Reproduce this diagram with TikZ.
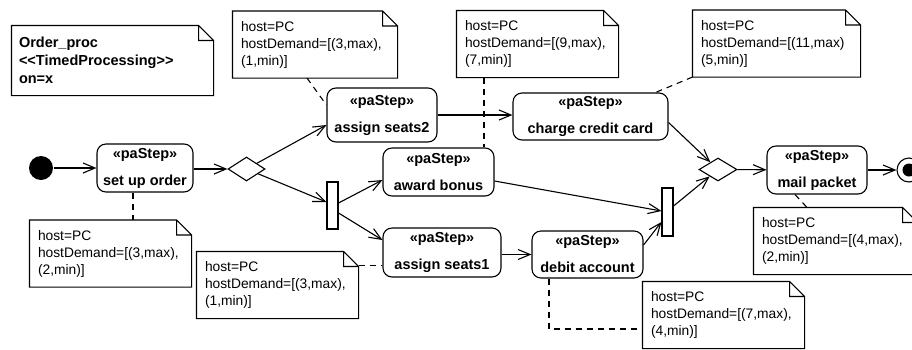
\documentclass[tikz,border=0pt]{standalone}
\usepackage{fontspec}
\setmainfont{Liberation Sans}
\usetikzlibrary{arrows.meta,positioning,shapes.geometric}

\begin{document}
\begin{tikzpicture}[x=1pt, y=-1pt, line width=1.1pt,
  pastep/.style={draw, rounded corners=9pt, align=center, inner sep=0pt,
                 font=\bfseries\fontsize{14.5}{27}\selectfont},
  note/.style={text width=145pt, inner xsep=8pt, minimum height=66pt, align=left,
               font=\fontsize{13.8}{17}\selectfont},
  bar/.style={draw, minimum width=11pt, minimum height=47pt, inner sep=0pt},
  choice/.style={draw, diamond, minimum width=37pt, minimum height=24pt, inner sep=0pt},
  flow/.style={-{Straight Barb[length=12pt,width=10pt]}},
  anchorline/.style={dash pattern=on 6pt off 5pt}]

  \useasboundingbox (0,0) rectangle (912,349);

  % activity nodes
  \node[circle, fill, minimum size=24pt, inner sep=0pt] (init) at (41,168) {};
  \node[pastep, minimum width=96pt, minimum height=48pt] (setup) at (145,168) {«paStep»\\set up order};
  \node[choice] (d1) at (246.5,169) {};
  \node[pastep, minimum width=110pt, minimum height=54pt] (seats2) at (382,115) {«paStep»\\assign seats2};
  \node[bar] (fork1) at (332.5,205.5) {};
  \node[pastep, minimum width=111pt, minimum height=48pt] (bonus) at (438.5,172) {«paStep»\\award bonus};
  \node[pastep, minimum width=118pt, minimum height=49pt] (seats1) at (442,252.5) {«paStep»\\assign seats1};
  \node[pastep, minimum width=155pt, minimum height=47pt] (credit) at (590.5,116.5) {«paStep»\\charge credit card};
  \node[pastep, minimum width=111pt, minimum height=47pt] (debit) at (587.5,254.5) {«paStep»\\debit account};
  \node[bar, minimum height=48pt] (fork2) at (667.5,212) {};
  \node[choice, minimum width=38pt, minimum height=23pt] (d2) at (718,169.5) {};
  \node[pastep, minimum width=100pt, minimum height=48pt] (mail) at (817,170) {«paStep»\\mail packet};
  \node[circle, draw, minimum size=24pt, inner sep=0pt] (final) at (909,170) {};
  \fill (final) circle (6.5pt);

  % notes
  \node[note, text width=187pt, inner xsep=7pt, minimum height=69pt,
        font=\bfseries\fontsize{14.5}{18}\selectfont] (ord) at (112.5,60.5)
       {Order\_proc\\<\kern0pt<TimedProcessing>\kern0pt>\\on=x};
  \node[note, text width=148pt] (n1) at (315,44.5) {host=PC\\hostDemand=[(3,max),\\(1,min)]};
  \node[note] (n2) at (537.5,44) {host=PC\\hostDemand=[(9,max),\\(7,min)]};
  \node[note, text width=151pt] (n3) at (776.5,43.5) {host=PC\\hostDemand=[(11,max)\\(5,min)]};
  \node[note] (n4) at (110.5,253.5) {host=PC\\hostDemand=[(3,max),\\(2,min)]};
  \node[note] (n5) at (277.5,285) {host=PC\\hostDemand=[(3,max),\\(1,min)]};
  \node[note] (n6) at (723.5,315) {host=PC\\hostDemand=[(7,max),\\(4,min)]};
  \node[note, text width=147pt] (n7) at (835.5,241) {host=PC\\hostDemand=[(4,max),\\(2,min)]};
  \foreach \n in {ord,n1,n2,n3,n4,n5,n6,n7}
    \draw (\n.south west) -- (\n.north west) -- ([xshift=-15pt]\n.north east)
      -- ([yshift=-15pt]\n.north east) -- (\n.south east) -- cycle
      ([xshift=-15pt]\n.north east) |- ([yshift=-15pt]\n.north east);

  % control flow
  \draw[flow] (init) -- (setup);
  \draw[flow] (setup.east |- d1) -- (d1);
  \draw[flow] (d1) -- ([yshift=-10pt]seats2.west);
  \draw[flow] (d1) -- ([yshift=3.5pt]fork1.west);
  \draw[flow] ([yshift=2.5pt]fork1.east) -- ([yshift=-8pt]bonus.west);
  \draw[flow] ([yshift=-7.5pt]fork1.east) -- ([yshift=12.5pt]seats1.west);
  \draw[flow] (seats2.east) -- (seats2.east -| credit.west);
  \draw[flow] (seats1.east |- debit.west) -- (debit.west);
  \draw[flow] ([yshift=-6pt]credit.east) -- (d2);
  \draw[flow] ([yshift=-9pt]bonus.east) -- ([yshift=1pt]fork2.west);
  \draw[flow] ([yshift=9.5pt]debit.east) -- ([yshift=-10pt]fork2.west);
  \draw[flow] ([yshift=6pt]fork2.east) -- (d2);
  \draw[flow] (d2) -- (mail);
  \draw[flow] (mail) -- (final);

  % note anchors
  \draw[anchorline] ([xshift=-12pt]setup.south) -- ([xshift=-12pt]setup.south |- n4.north);
  \draw[anchorline] ([xshift=-8pt]n1.south) -- ([yshift=10pt]seats2.west);
  \draw[anchorline] ([xshift=-53.5pt]n2.south) -- ([xshift=-53.5pt]n2.south |- bonus.north);
  \draw[anchorline] (n3.south west) -- ([xshift=-13pt]credit.north east);
  \draw[anchorline] ([yshift=-14pt]n5.north east) -- ([yshift=-14pt]n5.north east -| seats1.west);
  \draw[anchorline] ([xshift=-38.5pt]debit.south) |- ([yshift=-14pt]n6.west);
  \draw[anchorline] ([xshift=-22pt]mail.south) -- ([xshift=-28.5pt]n7.north);
\end{tikzpicture}
\end{document}
